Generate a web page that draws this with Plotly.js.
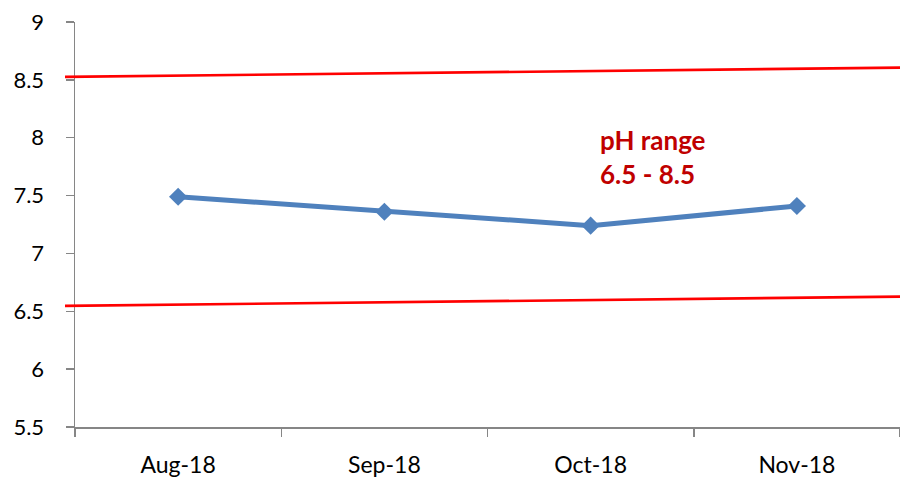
<!DOCTYPE html>
<html>
<head>
<meta charset="utf-8">
<script src="https://cdn.plot.ly/plotly-3.0.1.min.js"></script>
<style>html,body{margin:0;padding:0;background:#fff;}#chart{width:900px;height:484px;}</style>
</head>
<body>
<div id="chart"></div>
<script>
// Data
const months = ["Aug-18", "Sep-18", "Oct-18", "Nov-18"];
const phValues = [7.49, 7.36, 7.24, 7.41];
// pH limit lines (slightly tilted, as drawn in the original): start and end values
const limitNames = ["upper", "lower"];
const limitStart = [8.526, 6.547];
const limitEnd = [8.606, 6.627];
const yTicks = [5.5, 6, 6.5, 7, 7.5, 8, 8.5, 9];
const annotationText = "pH range<br>6.5 - 8.5";

const FONT = "Lato, 'Open Sans', sans-serif";
const axisColor = "#868686";

const trace = {
  type: "scatter",
  mode: "lines+markers",
  x: months,
  y: phValues,
  line: {color: "#4F81BD", width: 5},
  marker: {symbol: "diamond", size: 14, color: "#4F81BD"},
  cliponaxis: false,
  hoverinfo: "x+y",
  showlegend: false
};

const shapes = limitNames.map((n, i) => ({
  type: "line",
  xref: "paper", yref: "y",
  x0: -0.0121, x1: 1,
  y0: limitStart[i], y1: limitEnd[i],
  line: {color: "#FF0000", width: 2.6},
  layer: "above"
}));

const layout = {
  width: 900, height: 484,
  margin: {l: 75, r: 0, t: 22, b: 57, pad: 0},
  paper_bgcolor: "#ffffff",
  plot_bgcolor: "#ffffff",
  font: {family: FONT, color: "#000000", size: 22},
  showlegend: false,
  xaxis: {
    type: "category",
    range: [-0.5, 3.5],
    showgrid: false,
    zeroline: false,
    showline: true,
    linecolor: axisColor,
    linewidth: 1.5,
    ticks: "outside",
    tickson: "boundaries",
    ticklen: 8,
    tickwidth: 1.5,
    tickcolor: axisColor,
    ticklabelstandoff: 17,
    tickfont: {family: FONT, size: 23, color: "#000"},
    fixedrange: true
  },
  yaxis: {
    range: [5.5, 9],
    tickvals: yTicks,
    ticktext: yTicks.map(v => String(v)),
    showgrid: false,
    zeroline: false,
    showline: true,
    linecolor: axisColor,
    linewidth: 1.5,
    ticks: "outside",
    ticklen: 8,
    tickwidth: 1.5,
    tickcolor: axisColor,
    ticklabelstandoff: 17,
    tickfont: {family: FONT, size: 22, color: "#000"},
    fixedrange: true
  },
  shapes: shapes,
  annotations: [{
    xref: "paper", yref: "y",
    x: 0.634, y: 7.832,
    xanchor: "left", yanchor: "middle",
    align: "left",
    showarrow: false,
    text: annotationText,
    font: {family: FONT, size: 26, color: "#C00000", weight: "bold"}
  }]
};

Plotly.newPlot("chart", [trace], layout, {displayModeBar: false, staticPlot: true});
</script>
</body>
</html>
